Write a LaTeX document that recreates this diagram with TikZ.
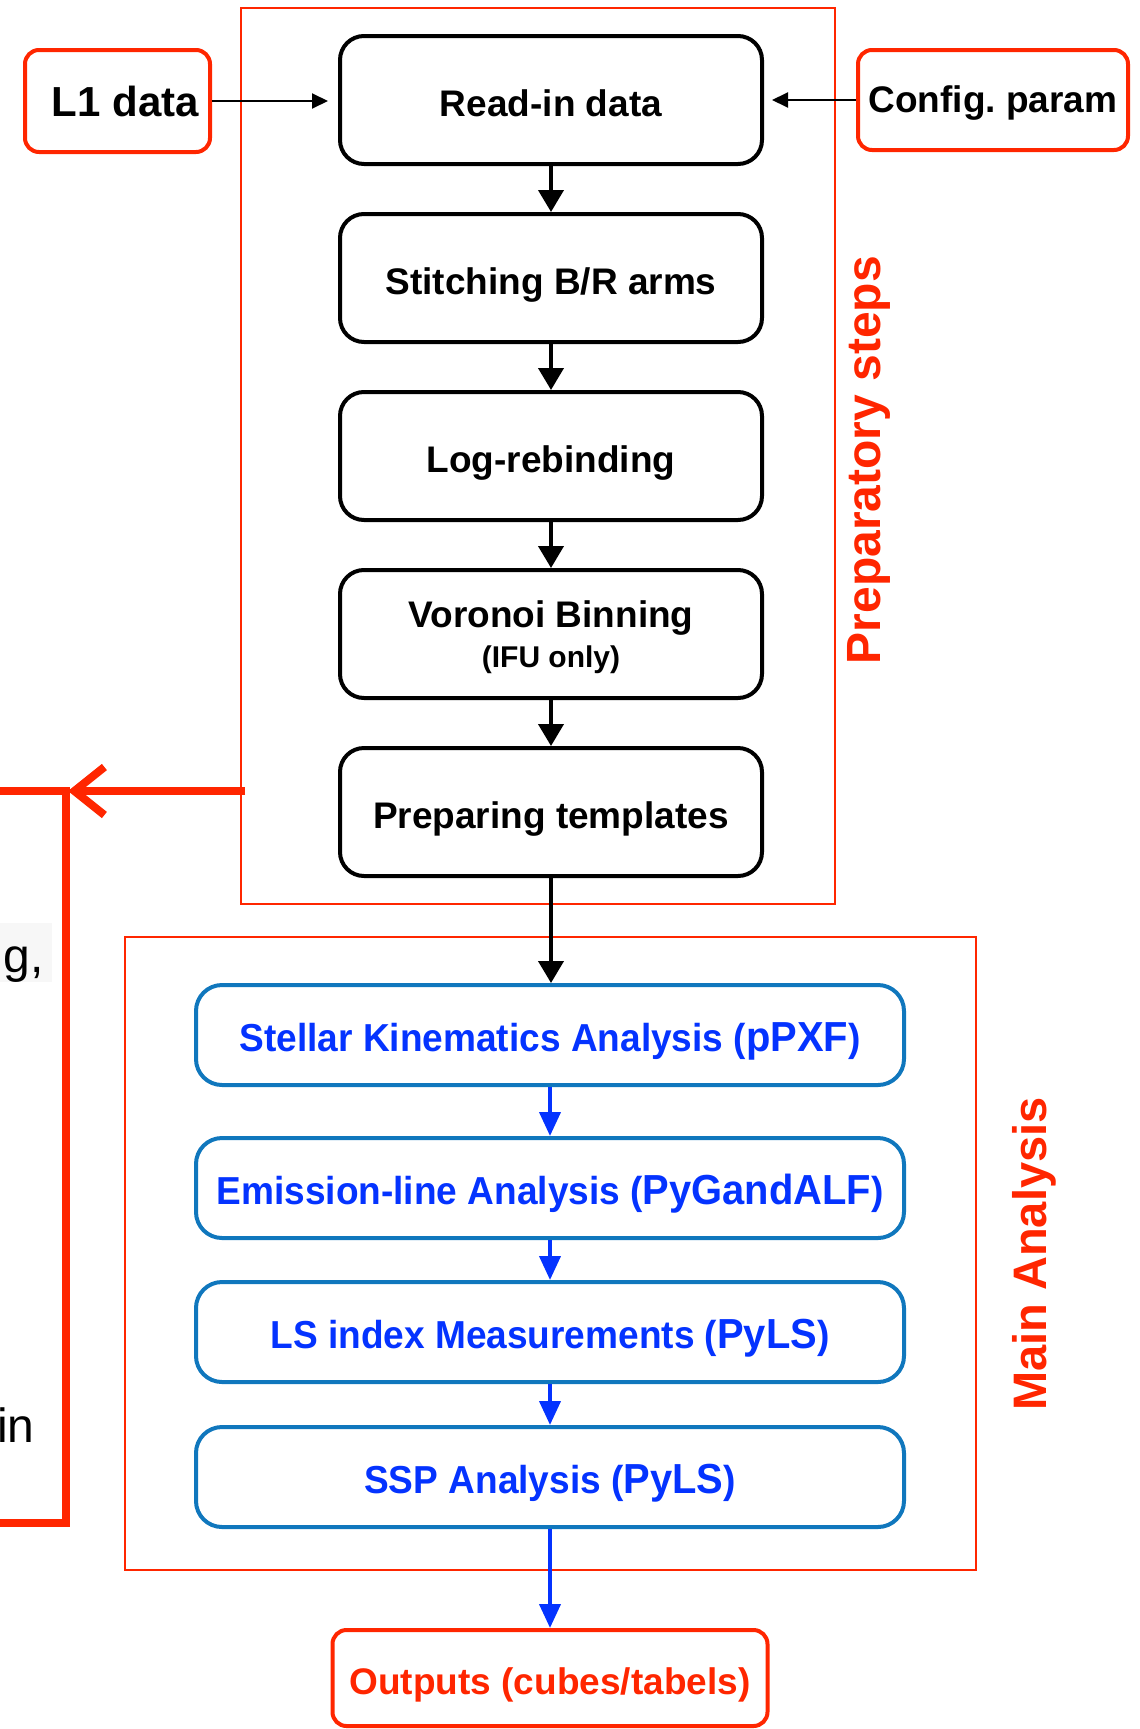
\documentclass[tikz,border=0pt]{standalone}
\usepackage{fontspec}
\setmainfont{Liberation Sans}
\newfontfamily\narrowsans[FakeStretch=0.95]{Liberation Sans}
\usetikzlibrary{arrows.meta}
\definecolor{flowred}{RGB}{255,38,0}
\definecolor{flowblue}{RGB}{4,51,255}
\definecolor{boxblue}{RGB}{16,119,189}
\newcommand\toolname[1]{{\fontsize{21}{22}\selectfont #1}}
\begin{document}
\begin{tikzpicture}[x=0.5pt,y=-0.5pt,
  stepbox/.style={draw=black, line width=2pt, rounded corners=12pt,
    minimum width=211pt, minimum height=64pt, inner sep=0pt, align=center,
    text height=16.5pt, text depth=0.5pt,
    font=\fontsize{18.5}{21}\selectfont\bfseries},
  anabox/.style={draw=boxblue, line width=2pt, rounded corners=13pt,
    minimum width=354pt, minimum height=50pt, inner sep=0pt, text=flowblue,
    text height=17pt, text depth=0.6pt,
    font=\narrowsans\fontsize{19.5}{22}\selectfont\bfseries},
  iobox/.style={draw=flowred, line width=2pt, rounded corners=7pt, inner sep=0pt},
  groupbox/.style={draw=flowred, line width=1pt, inner sep=0pt},
  sidelabel/.style={text=flowred, rotate=90, inner sep=0pt,
    font=\fontsize{24}{28}\selectfont\bfseries},
  flow/.style={-{Triangle[length=11pt,width=12.5pt]}, line width=2pt},
  anaflow/.style={draw=flowblue, -{Triangle[length=12pt,width=10.5pt]}, line width=2pt},
  feed/.style={-{Triangle[length=8pt,width=7.5pt]}, line width=1pt},
  feedback/.style={draw=flowred, line width=4pt},
  fragment/.style={anchor=base east, inner sep=0pt, font=\fontsize{24}{28}\selectfont},
]
\useasboundingbox (0,0) rectangle (1140,1729);
\begin{scope}
\clip (0,0) rectangle (1140,1729);

% grouping frames
\node[groupbox, minimum width=297pt, minimum height=448pt] (prepgroup) at (538,456) {};
\node[groupbox, minimum width=425.5pt, minimum height=316.5pt] (maingroup) at (550.5,1253.5) {};
\node[sidelabel] (preplabel) at (869,460) {Preparatory steps};
\node[sidelabel, font=\fontsize{23.5}{28}\selectfont\bfseries] (mainlabel) at (1034,1254) {Main Analysis};

% preparatory steps
\node[stepbox] (readin) at (551,100) {Read-in data};
\node[stepbox] (stitch) at (551,278) {Stitching B/R arms};
\node[stepbox] (rebin) at (551,456) {Log-rebinding};
\node[stepbox, text height=, text depth=0.3pt] (voronoi) at (551,634)
  {Voronoi Binning\\[-1pt]{\fontsize{15}{21}\selectfont (IFU only)}};
\node[stepbox] (templ) at (551,812) {Preparing templates};

% main analysis
\node[anabox] (kin) at (550,1035) {Stellar Kinematics Analysis (\toolname{pPXF})};
\node[anabox] (emis) at (550,1188) {Emission-line Analysis (\toolname{PyGandALF})};
\node[anabox] (lsidx) at (550,1332) {LS index Measurements (\toolname{PyLS})};
\node[anabox] (ssp) at (550,1477) {SSP Analysis (\toolname{PyLS})};

% inputs and outputs
\node[iobox, minimum width=92.5pt, minimum height=51pt,
  font=\fontsize{21}{24}\selectfont\bfseries] (lone) at (117.5,101) {\hspace*{8pt}L1 data};
\node[iobox, minimum width=135pt, minimum height=50pt, text height=13.5pt, text depth=0.6pt,
  font=\fontsize{18.5}{21}\selectfont\bfseries] (config) at (993,100) {Config.\ param};
\node[iobox, minimum width=217.5pt, minimum height=48pt, text=flowred,
  text height=16.5pt, text depth=0.5pt,
  font=\fontsize{18.5}{21}\selectfont\bfseries] (outputs) at (550,1678) {Outputs (cubes/tabels)};

% connectors
\draw[feed, shorten >=5pt] (lone.east) -- (lone.east -| readin.west);
\draw[feed, shorten >=4pt] (config.west) -- (config.west -| readin.east);
\draw[flow] (readin) -- (stitch);
\draw[flow] (stitch) -- (rebin);
\draw[flow] (rebin) -- (voronoi);
\draw[flow] (voronoi) -- (templ);
\draw[flow] (templ.south) -- (templ.south |- kin.north);
\draw[anaflow] (kin) -- (emis);
\draw[anaflow] (emis) -- (lsidx);
\draw[anaflow] (lsidx) -- (ssp);
\draw[anaflow] (ssp) -- (outputs);

% feedback loop on the left
\coordinate (fbstart) at (245,791);
\coordinate (fbtip) at (68,791);
\coordinate (fbleft) at (0,791);
\coordinate (fbtop) at (66,787);
\coordinate (fbcorner) at (66,1523);
\coordinate (fbend) at (0,1523);
\draw[feedback, -{Straight Barb[length=15pt,width=24pt]}] (fbstart) -- (fbtip);
\draw[feedback] (fbtip) -- (fbleft);
\draw[feedback, line join=miter] (fbtop) -- (fbcorner) -- (fbend);

% text running in from the left margin
\fill[black!3] (0,923) rectangle (52,982);
\node[fragment] (fraga) at (44,972) {g,};
\node[fragment] (fragb) at (35,1442) {in};
\end{scope}
\end{tikzpicture}
\end{document}
